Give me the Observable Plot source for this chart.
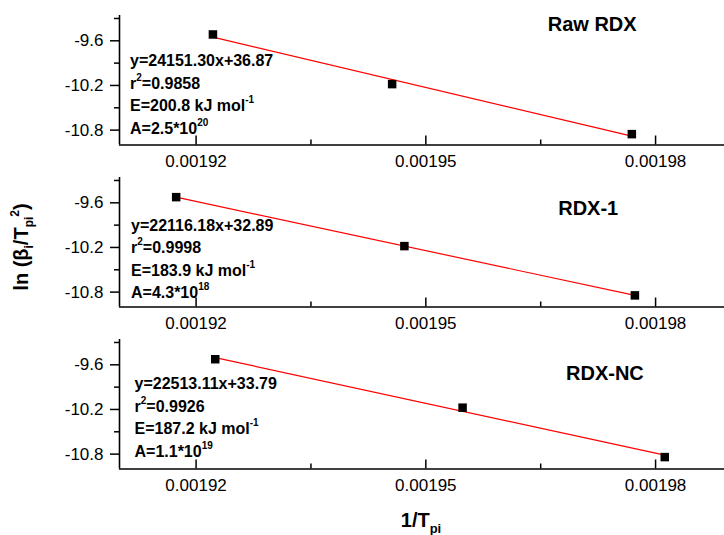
<!DOCTYPE html>
<html><head><meta charset="utf-8">
<script src="https://cdn.jsdelivr.net/npm/d3@7"></script>
<script src="https://cdn.jsdelivr.net/npm/@observablehq/plot@0.6"></script>
<style>
body{margin:0;background:#fff;font-family:"Liberation Sans",Arial,sans-serif;}
#chart{position:relative;width:724px;height:535px;overflow:hidden;background:#fff;}
#chart svg{position:absolute;left:0;}
</style></head><body><div id="chart"></div>
<script>
// ---- data ----
const samples = ["Raw RDX", "RDX-1", "RDX-NC"];
const invTraw  = [0.0019222, 0.0019456, 0.0019769];
const invTrdx1 = [0.0019174, 0.0019472, 0.0019773];
const invTnc   = [0.0019225, 0.0019548, 0.0019812];
const lnRaw    = [-9.515, -10.182, -10.854];
const lnRdx1   = [-9.524, -10.182, -10.844];
const lnNc     = [-9.525, -10.176, -10.840];
const fitEq    = ["y=24151.30x+36.87", "y=22116.18x+32.89", "y=22513.11x+33.79"];
const r2       = ["0.9858", "0.9998", "0.9926"];
const energy   = ["200.8", "183.9", "187.2"];
const preMant  = ["2.5", "4.3", "1.1"];
const preExp   = ["20", "18", "19"];
const xMajor = [0.00192, 0.00195, 0.00198];
const xMinor = [0.001935, 0.001965];
const yMajor = [-9.6, -10.2, -10.8];
const yMinor = [-9.3, -9.9, -10.5];
const xDomain = [0.00191, 0.001989];
const yDomain = [-11.0, -9.26];
const xTitle = "1/T_{pi}";
const yTitle = "ln (\u03b2_{i}/T_{pi}^{2})";

const invT = [invTraw, invTrdx1, invTnc];
const lnB = [lnRaw, lnRdx1, lnNc];

// ---- layout ----
const W = 724, H = 162, mTop = 15, mLeft = 119;
const frameH = 129.5;
const panelTop = [0, 162.3, 324.3];
const titlePos = [[591.7, 24], [587.7, 46], [604.4, 49.3]];
const notePos = [[129.5, 60.5], [130.5, 63], [134, 59.5]];
const lineGap = 22.5;
const font = "Liberation Sans, Arial, sans-serif";
const svgns = "http://www.w3.org/2000/svg";

function richify(el, small, up, down) {
  const s = el.textContent;
  if (!/[\^_]\{/.test(s)) return;
  const parts = [];
  const re = /([\^_])\{([^}]*)\}/g;
  let last = 0, m;
  while ((m = re.exec(s))) {
    if (m.index > last) parts.push({t: s.slice(last, m.index), k: 0});
    parts.push({t: m[2], k: m[1] === "^" ? 1 : -1});
    last = re.lastIndex;
  }
  if (last < s.length) parts.push({t: s.slice(last), k: 0});
  el.textContent = "";
  let cur = 0;
  for (const p of parts) {
    const ts = document.createElementNS(svgns, "tspan");
    const target = p.k === 1 ? -up : p.k === -1 ? down : 0;
    if (target !== cur) ts.setAttribute("dy", target - cur);
    cur = target;
    if (p.k) ts.setAttribute("font-size", small);
    ts.textContent = p.t;
    el.appendChild(ts);
  }
}

const chart = document.getElementById("chart");

samples.forEach((name, k) => {
  const data = invT[k].map((x, i) => ({x, y: lnB[k][i]}));
  const notes = [fitEq[k], `r^{2}=${r2[k]}`, `E=${energy[k]} kJ mol^{-1}`, `A=${preMant[k]}*10^{${preExp[k]}}`];
  const marks = [
    Plot.ruleY([yDomain[0]], {stroke: "black", strokeWidth: 1.6}),
    Plot.ruleX([xDomain[0]], {stroke: "black", strokeWidth: 1.6}),
    Plot.ruleX(xMajor, {insetTop: frameH - 9, stroke: "black", strokeWidth: 1.5}),
    Plot.ruleX(xMinor, {insetTop: frameH - 5, stroke: "black", strokeWidth: 1.5}),
    Plot.axisX({ticks: xMajor, tickSize: 0, tickPadding: 10, tickFormat: d => d.toFixed(5), fontSize: 17, fill: "black", label: null}),
    Plot.axisY({ticks: yMajor, tickSize: 9, tickPadding: 7, tickFormat: d => d.toFixed(1), fontSize: 17, stroke: "black", strokeWidth: 1.5, fill: "black", label: null}),
    Plot.axisY({ticks: yMinor, tickSize: 5, tickFormat: () => "", stroke: "black", strokeWidth: 1.5, label: null}),
    Plot.linearRegressionY(data, {x: "x", y: "y", stroke: "#ff0000", strokeWidth: 1.2, ci: 0}),
    Plot.dot(data, {x: "x", y: "y", symbol: "square", r: 4.8, fill: "black", stroke: "none"}),
    Plot.text([name], {text: d => d, frameAnchor: "top-left", dx: titlePos[k][0] - mLeft, dy: titlePos[k][1] - mTop,
      textAnchor: "middle", lineAnchor: "middle", fontWeight: "bold", fontSize: 20, fill: "black"})
  ];
  notes.forEach((t, i) => {
    marks.push(Plot.text([t], {text: d => d, frameAnchor: "top-left", dx: notePos[k][0] - mLeft,
      dy: notePos[k][1] + i * lineGap - mTop, textAnchor: "start", lineAnchor: "middle",
      fontWeight: "bold", fontSize: 16, fill: "black"}));
  });
  const svg = Plot.plot({
    width: W, height: H,
    marginTop: mTop, marginLeft: mLeft, marginRight: 0, marginBottom: H - mTop - frameH,
    style: {fontFamily: font, fontSize: "17px", color: "black", background: "transparent", overflow: "visible"},
    x: {type: "linear", domain: xDomain, label: null},
    y: {type: "linear", domain: yDomain, label: null},
    marks
  });
  svg.style.top = panelTop[k] + "px";
  svg.querySelectorAll("text").forEach(el => richify(el, 10, 8, 0));
  chart.appendChild(svg);
});

// axis titles overlay
const ov = d3.create("svg").attr("width", W).attr("height", 535).style("top", "0px").style("pointer-events", "none");
const xt = ov.append("text").attr("x", 421).attr("y", 527).attr("text-anchor", "middle")
  .attr("font-family", font).attr("font-weight", "bold").attr("font-size", 20).attr("fill", "black").text(xTitle);
richify(xt.node(), 13, 0, 6);
const yt = ov.append("text").attr("transform", "translate(28,247) rotate(-90)").attr("text-anchor", "middle")
  .attr("font-family", font).attr("font-weight", "bold").attr("font-size", 20).attr("fill", "black").text(yTitle);
(function(){
  const el = yt.node(); const s = yTitle;
  const parts = []; const re = /([\^_])\{([^}]*)\}/g; let last = 0, m;
  while ((m = re.exec(s))) { if (m.index > last) parts.push({t: s.slice(last, m.index), k: 0}); parts.push({t: m[2], k: m[1] === "^" ? 1 : -1}); last = re.lastIndex; }
  if (last < s.length) parts.push({t: s.slice(last), k: 0});
  el.textContent = ""; let cur = 0;
  for (const p of parts) {
    const ts = document.createElementNS(svgns, "tspan");
    const target = p.k === 1 ? -9 : p.k === -1 ? 5 : 0;
    if (target !== cur) ts.setAttribute("dy", target - cur);
    cur = target;
    if (p.k) ts.setAttribute("font-size", 12);
    ts.textContent = p.t; el.appendChild(ts);
  }
})();
chart.appendChild(ov.node());
</script></body></html>
